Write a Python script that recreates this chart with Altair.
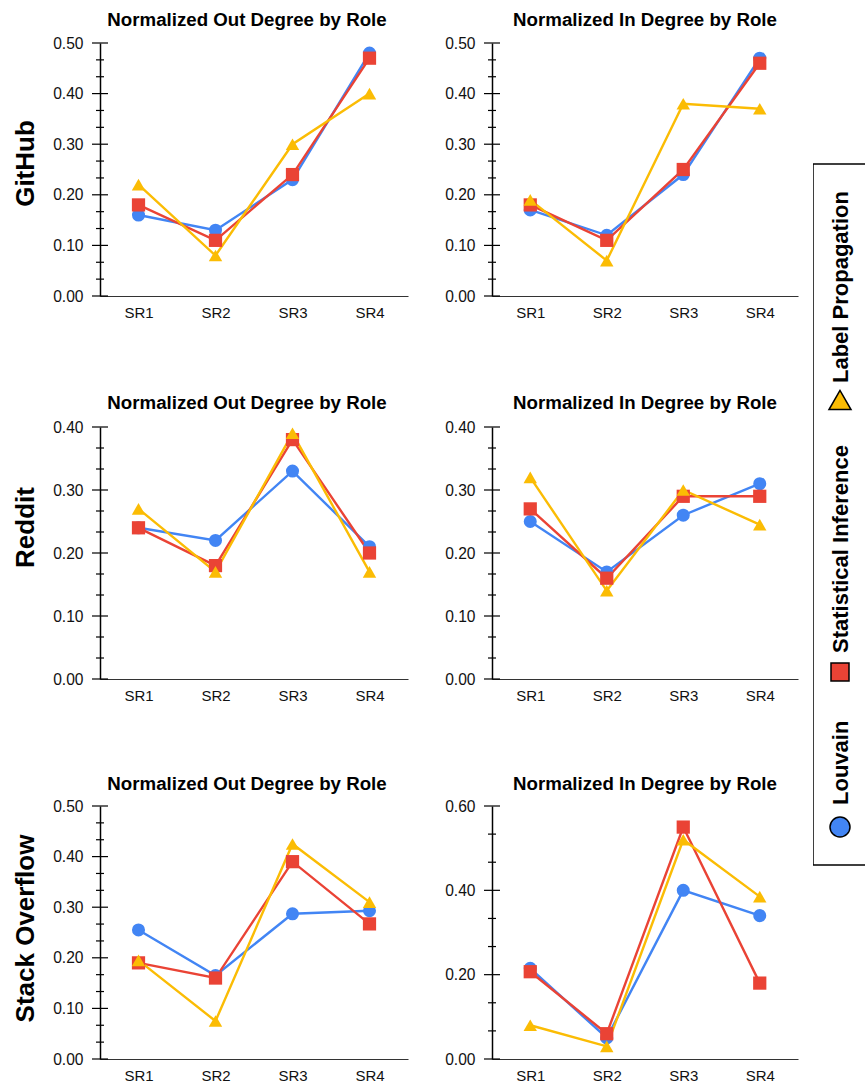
import altair as alt
import pandas as pd

# ---------------- data ----------------
roles = ["SR1", "SR2", "SR3", "SR4"]
methods = ["Louvain", "Statistical Inference", "Label Propagation"]
platforms = ["GitHub", "Reddit", "Stack Overflow"]
panel_titles = ["Normalized Out Degree by Role", "Normalized In Degree by Role"]

github_out_louvain = [0.16, 0.13, 0.23, 0.48]
github_out_si = [0.18, 0.11, 0.24, 0.47]
github_out_lp = [0.22, 0.08, 0.30, 0.40]

github_in_louvain = [0.17, 0.12, 0.24, 0.47]
github_in_si = [0.18, 0.11, 0.25, 0.46]
github_in_lp = [0.19, 0.07, 0.38, 0.37]

reddit_out_louvain = [0.24, 0.22, 0.33, 0.21]
reddit_out_si = [0.24, 0.18, 0.38, 0.20]
reddit_out_lp = [0.27, 0.17, 0.39, 0.17]

reddit_in_louvain = [0.25, 0.17, 0.26, 0.31]
reddit_in_si = [0.27, 0.16, 0.29, 0.29]
reddit_in_lp = [0.32, 0.14, 0.30, 0.245]

so_out_louvain = [0.255, 0.165, 0.287, 0.293]
so_out_si = [0.19, 0.16, 0.39, 0.267]
so_out_lp = [0.195, 0.075, 0.425, 0.31]

so_in_louvain = [0.215, 0.05, 0.40, 0.34]
so_in_si = [0.207, 0.06, 0.55, 0.18]
so_in_lp = [0.08, 0.03, 0.52, 0.385]

# axis extents / label steps per panel
y_max = [[0.5, 0.5], [0.4, 0.4], [0.5, 0.6]]
y_step = [[0.1, 0.1], [0.1, 0.1], [0.1, 0.2]]

series = [
    [[github_out_louvain, github_out_si, github_out_lp], [github_in_louvain, github_in_si, github_in_lp]],
    [[reddit_out_louvain, reddit_out_si, reddit_out_lp], [reddit_in_louvain, reddit_in_si, reddit_in_lp]],
    [[so_out_louvain, so_out_si, so_out_lp], [so_in_louvain, so_in_si, so_in_lp]],
]

# ---------------- style ----------------
colors = ["#4285F4", "#EA4335", "#FBBC04"]
shapes = ["circle", "square", "triangle-up"]
marker_sizes = [170, 180, 240]
legend_sizes = [400, 324, 484]
FONT = "Liberation Sans"
NARROW = "Liberation Sans Narrow, Arial Narrow, Liberation Sans"

row_heights = [253, 252, 253]
row_title_y = [120, 100, 122]
title_offsets = [6, 7, 5]
panel_w = [308, 306]

color_enc = alt.Color("method:N", scale=alt.Scale(domain=methods, range=colors), legend=None)
shape_enc = alt.Shape("method:N", scale=alt.Scale(domain=methods, range=shapes), legend=None)
size_enc = alt.Size("method:N", scale=alt.Scale(domain=methods, range=marker_sizes), legend=None)


def make_panel(r, c):
    recs = []
    for m, vals in zip(methods, series[r][c]):
        for role, v in zip(roles, vals):
            recs.append({"method": m, "role": role, "value": v})
    df = pd.DataFrame(recs)
    ymax = y_max[r][c]
    step = y_step[r][c]
    n = int(round(ymax / step))
    major = [round(i * step, 6) for i in range(n + 1)]
    minor = [round(i * step + k * step / 3, 6) for i in range(n) for k in (1, 2)]

    axis_kw = dict(values=major, format=".2f", ticks=False, grid=False,
                   labelPadding=17, labelFontSize=15.6, labelColor="#111",
                   domainColor="#000", domainWidth=1.5)
    if c == 0:
        axis_kw.update(titleFontSize=26, titleFontWeight="bold", titleColor="#000",
                       titleAngle=270, titleAlign="center", titleBaseline="middle",
                       titleX=-75, titleY=row_title_y[r])
        title = platforms[r]
    else:
        title = None
    y = alt.Y("value:Q", scale=alt.Scale(domain=[0, ymax], nice=False, zero=True),
              axis=alt.Axis(**axis_kw), title=title)
    x = alt.X("role:N", sort=roles, scale=alt.Scale(type="point", padding=0.5),
              axis=alt.Axis(labelAngle=0, ticks=False, labelPadding=9, labelFontSize=15,
                            labelColor="#111", domainColor="#333", domainWidth=1.2, grid=False),
              title=None)

    tmaj = alt.Chart(pd.DataFrame({"value": major})).mark_rule(color="black", strokeWidth=1.2).encode(
        y=y, x=alt.value(-8), x2=alt.value(8))
    tmin = alt.Chart(pd.DataFrame({"value": minor})).mark_rule(color="black", strokeWidth=1.2).encode(
        y=y, x=alt.value(-4), x2=alt.value(4))
    lines = alt.Chart(df).mark_line(strokeWidth=2.4).encode(x=x, y=y, color=color_enc)
    pts = alt.Chart(df).mark_point(filled=True, opacity=1).encode(
        x=x, y=y, color=color_enc, shape=shape_enc, size=size_enc)
    return alt.layer(tmaj, tmin, lines, pts).properties(
        width=panel_w[c], height=row_heights[r],
        title=alt.TitleParams(text=panel_titles[c], fontSize=18.7, fontWeight="bold",
                              anchor="middle", color="#000", dx=-7 if c == 0 else 0,
                              offset=title_offsets[r]))


rows = [alt.hconcat(make_panel(r, 0), make_panel(r, 1), spacing=36) for r in range(3)]
grid = alt.vconcat(rows[0], alt.vconcat(rows[1], rows[2], spacing=72), spacing=74)

# ---------------- legend (rotated) ----------------
P_TOP = 11
V_TOP = 43  # page y of the first row's plot top (legend view origin)
leg_symbol_y = [827 - V_TOP, 672 - V_TOP, 400 - V_TOP]
leg_text_y = [805 - V_TOP, 653 - V_TOP, 383 - V_TOP]

box = alt.Chart(pd.DataFrame({"k": [0]})).mark_rect(
    fill="white", stroke="black", strokeWidth=1.5, clip=True).encode(
    x=alt.value(0), x2=alt.value(90), y=alt.value(164 - V_TOP), y2=alt.value(865 - V_TOP))
leg_layers = [box]
for m, col, shp, sz, sy, ty in zip(methods, colors, shapes, legend_sizes, leg_symbol_y, leg_text_y):
    d = pd.DataFrame({"method": [m]})
    leg_layers.append(alt.Chart(d).mark_point(filled=True, opacity=1, fill=col, stroke="black",
                                              strokeWidth=1.5, shape=shp, size=sz).encode(
        x=alt.value(27), y=alt.value(sy)))
    leg_layers.append(alt.Chart(d).mark_text(angle=270, align="left", baseline="middle",
                                             fontSize=22, fontWeight="bold", font=NARROW,
                                             color="black").encode(
        x=alt.value(28), y=alt.value(ty), text="method:N"))
legend = alt.layer(*leg_layers).properties(width=52, height=860)

chart = alt.hconcat(grid, legend, spacing=15).properties(
    padding={"left": 12, "top": P_TOP, "right": 0, "bottom": 0}
).configure(font=FONT).configure_view(stroke=None)

chart.save("out.html", embed_options={"renderer": "svg", "actions": False})
